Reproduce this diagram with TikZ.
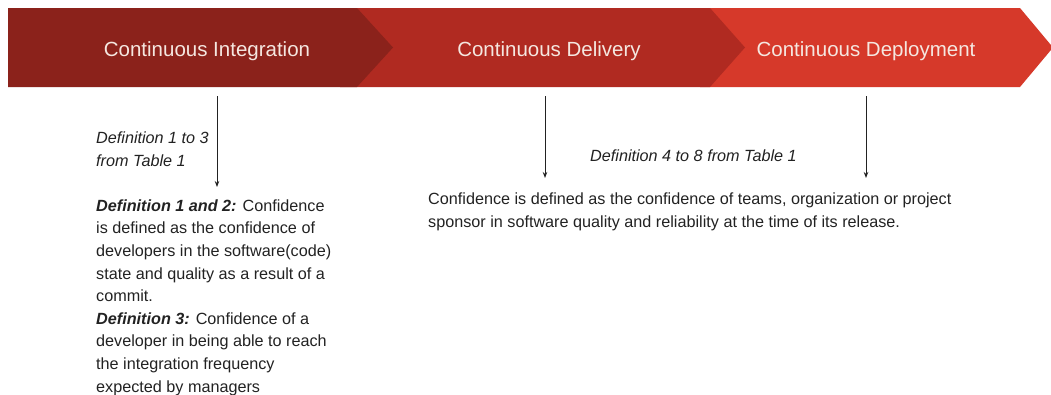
\documentclass[tikz,border=0pt]{standalone}
\usepackage{fontspec}
\setmainfont{Liberation Sans}
\usetikzlibrary{arrows.meta, positioning, calc}
\definecolor{cdred}{HTML}{8B221B}
\definecolor{cdmid}{HTML}{B02A21}
\definecolor{cdlight}{HTML}{D6392A}
\definecolor{cdtext}{HTML}{F5E7E0}
\definecolor{cdink}{HTML}{222222}

\begin{document}
\begin{tikzpicture}[x=1pt, y=-1pt,
    stage/.style={font=\fontsize{20.5}{24}\selectfont, text=cdtext, inner sep=0pt, anchor=base},
    body/.style={font=\fontsize{16.2}{22.6}\selectfont, text=cdink, align=left, anchor=base west, inner sep=0pt},
    note/.style={body, font=\fontsize{16.2}{22.6}\selectfont\itshape},
    link/.style={draw=cdink, line width=0.9pt, -{Stealth[length=6pt, width=4.5pt]}},
]
\useasboundingbox (0,0) rectangle (1051,394);

% stage chevrons, back to front
\fill[cdlight] (700,8) -- (1020,8) -- (1053,47.5) -- (1020,87) -- (700,87) -- cycle;
\fill[cdmid] (340,8) -- (710,8) -- (745,47.5) -- (710,87) -- (340,87) -- cycle;
\fill[cdred] (8,8) -- (357,8) -- (393,47.5) -- (357,87) -- (8,87) -- cycle;

\node[stage] (ci) at (207,56) {Continuous Integration};
\node[stage] (cdel) at (549,56) {Continuous Delivery};
\node[stage] (cdep) at (866,56) {Continuous Deployment};

% where the definitions come from (base = last line)
\node[note] (srcci) at (96,166) {Definition 1 to 3\\from Table 1};
\node[note] (srccd) at (590,161) {Definition 4 to 8 from Table 1};

% definitions
\node[body] (defci) at (96,392) {%
  \textbf{\textit{Definition 1 and 2:}} Confidence\\
  is defined as the confidence of\\
  developers in the software(code)\\
  state and quality as a result of a\\
  commit.\\
  \textbf{\textit{Definition 3:}} Confidence of a\\
  developer in being able to reach\\
  the integration frequency\\
  expected by managers};
\node[body] (defcd) at (428,227) {%
  Confidence is defined as the confidence of teams, organization or project\\
  sponsor in software quality and reliability at the time of its release.};

% arrows from the stages down to the text
\coordinate (ciTop) at (217,96);
\coordinate (ciEnd) at (217,187);
\coordinate (cdelTop) at (545,96);
\coordinate (cdelEnd) at (545,178);
\coordinate (cdepTop) at (866,96);
\coordinate (cdepEnd) at (866,178);
\draw[link] (ciTop) -- (ciEnd);
\draw[link] (cdelTop) -- (cdelEnd);
\draw[link] (cdepTop) -- (cdepEnd);
\end{tikzpicture}
\end{document}
